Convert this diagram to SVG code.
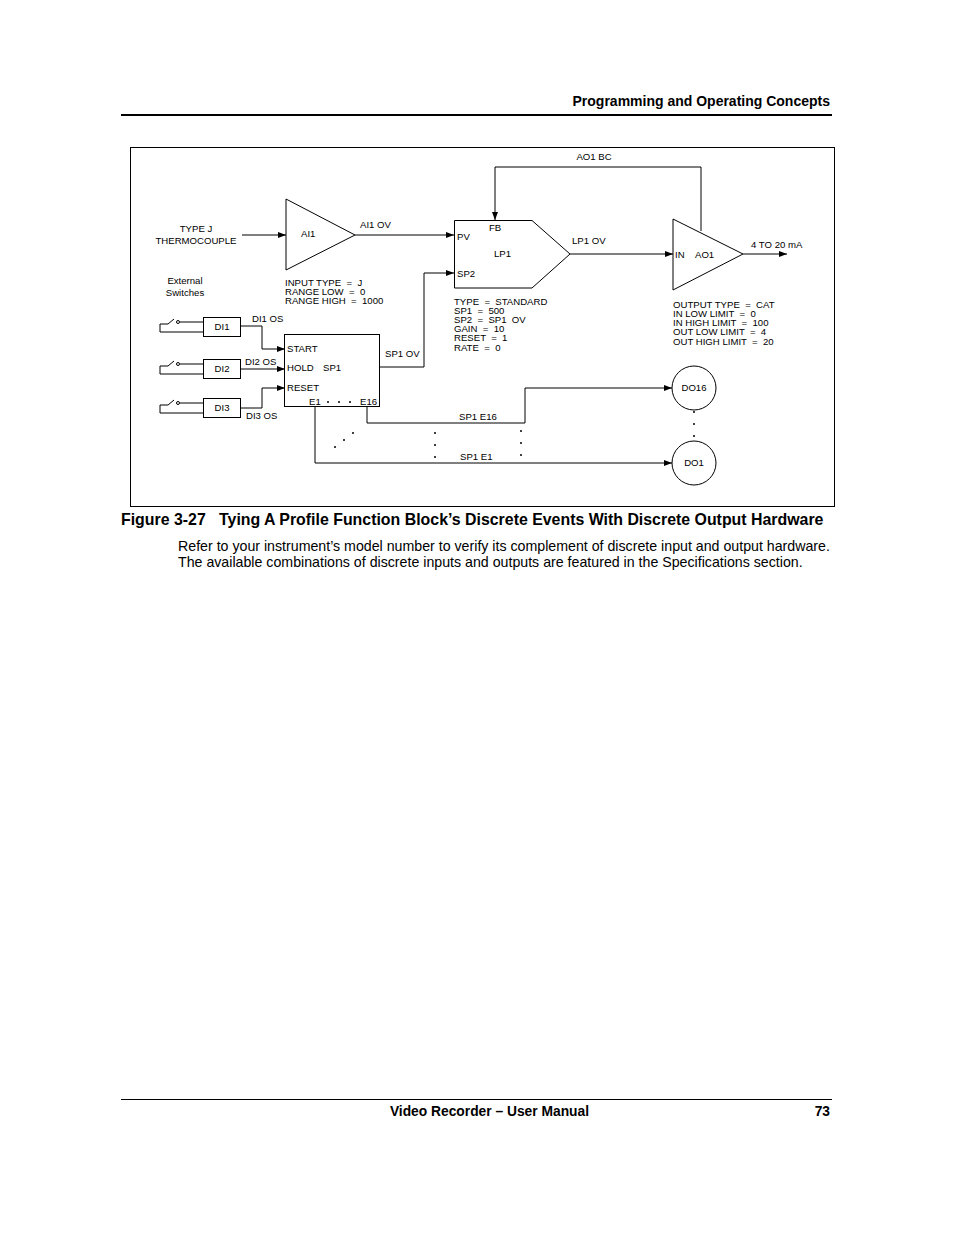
<svg xmlns="http://www.w3.org/2000/svg" width="954" height="1235" viewBox="0 0 954 1235" xml:space="preserve">
<defs>
<style>
text{font-family:"Liberation Sans",Arial,sans-serif;fill:#000;white-space:pre}
.t{font-size:9.6px}
.b{font-weight:bold}
.l{fill:none;stroke:#000;stroke-width:1}
.a{fill:none;stroke:#000;stroke-width:1;marker-end:url(#ah)}
.n{fill:#fff;stroke:#000;stroke-width:1}
</style>
<marker id="ah" markerWidth="8" markerHeight="6" refX="8" refY="3" orient="auto" markerUnits="userSpaceOnUse"><path d="M0,0 L8,3 L0,6 z" fill="#000"/></marker>
</defs>
<rect width="954" height="1235" fill="#fff"/>
<text x="830" y="106" text-anchor="end" class="b" font-size="14">Programming and Operating Concepts</text>
<line x1="121" y1="115" x2="832" y2="115" stroke="#000" stroke-width="2"/>
<rect x="130.5" y="147.5" width="704" height="359" class="l"/>

<g id="connectors">
<path class="a" d="M242,235 H286"/>
<path class="a" d="M355,235 H454"/>
<path class="a" d="M570,254 H673"/>
<path class="a" d="M743,254 H787"/>
<path class="a" d="M701,231 V167 H495 V220"/>
<path class="a" d="M380,367 H424 V273 H454"/>
<path class="a" d="M241,326 H262 V349 H285"/>
<path class="a" d="M241,369 H285"/>
<path class="a" d="M241,408 H262 V388 H285"/>
<path class="a" d="M367,406 V423 H525 V388 H672"/>
<path class="a" d="M315,406 V463 H672"/>
</g>

<g id="AI1"><path class="n" d="M286,199 L355,235 L286,270 Z"/><text class="t" x="301" y="237">AI1</text></g>
<g id="LP1"><path class="n" d="M454.5,220.5 H532 L570,254 L532,288 H454.5 Z"/>
<text class="t" x="489" y="231">FB</text><text class="t" x="457" y="240">PV</text><text class="t" x="494" y="257">LP1</text><text class="t" x="457" y="277">SP2</text></g>
<g id="AO1"><path class="n" d="M673,219 L743,254 L673,290 Z"/><text class="t" x="675" y="258">IN</text><text class="t" x="695" y="258">AO1</text></g>
<g id="SP1"><rect class="n" x="284.5" y="334.5" width="95" height="72"/>
<text class="t" x="287" y="352">START</text><text class="t" x="287" y="371">HOLD</text><text class="t" x="323" y="371">SP1</text><text class="t" x="287" y="391">RESET</text>
<text class="t" x="309" y="405">E1</text><text class="t" x="360" y="405">E16</text>
<circle cx="328" cy="402" r="1"/><circle cx="339" cy="402" r="1"/><circle cx="350" cy="402" r="1"/></g>
<g id="DI1"><rect class="n" x="203.5" y="317.5" width="37" height="19"/><text class="t" x="222" y="330" text-anchor="middle">DI1</text>
<path class="l" d="M203,332 H160 V324 H168 L174,319 M180,322 H203"/><circle cx="178" cy="322" r="1.5" class="l"/></g>
<g id="DI2"><rect class="n" x="203.5" y="359.5" width="37" height="19"/><text class="t" x="222" y="372" text-anchor="middle">DI2</text>
<path class="l" d="M203,374 H160 V366 H168 L174,361 M180,364 H203"/><circle cx="178" cy="364" r="1.5" class="l"/></g>
<g id="DI3"><rect class="n" x="203.5" y="398.5" width="37" height="19"/><text class="t" x="222" y="411" text-anchor="middle">DI3</text>
<path class="l" d="M203,413 H160 V405 H168 L174,400 M180,403 H203"/><circle cx="178" cy="403" r="1.5" class="l"/></g>
<g id="DO16"><circle class="n" cx="694" cy="388" r="22"/><text class="t" x="694" y="391" text-anchor="middle">DO16</text></g>
<g id="DO1"><circle class="n" cx="694" cy="463" r="22"/><text class="t" x="694" y="466" text-anchor="middle">DO1</text></g>

<g>
<text x="196" y="232" text-anchor="middle" class="t">TYPE J</text>
<text x="196" y="244" text-anchor="middle" class="t">THERMOCOUPLE</text>
<text x="185" y="284" text-anchor="middle" class="t">External</text>
<text x="185" y="296" text-anchor="middle" class="t">Switches</text>
<text x="360" y="228" class="t">AI1 OV</text>
<text x="594" y="160" text-anchor="middle" class="t">AO1 BC</text>
<text x="572" y="244" class="t">LP1 OV</text>
<text x="751" y="248" class="t">4 TO 20 mA</text>
<text x="285" y="286" class="t">INPUT TYPE  =  J</text>
<text x="285" y="295" class="t">RANGE LOW  =  0</text>
<text x="285" y="304" class="t">RANGE HIGH  =  1000</text>
<text x="454" y="305" class="t">TYPE  =  STANDARD</text>
<text x="454" y="314" class="t">SP1  =  500</text>
<text x="454" y="323" class="t">SP2  =  SP1  OV</text>
<text x="454" y="332" class="t">GAIN  =  10</text>
<text x="454" y="341" class="t">RESET  =  1</text>
<text x="454" y="351" class="t">RATE  =  0</text>
<text x="673" y="308" class="t">OUTPUT TYPE  =  CAT</text>
<text x="673" y="317" class="t">IN LOW LIMIT  =  0</text>
<text x="673" y="326" class="t">IN HIGH LIMIT  =  100</text>
<text x="673" y="335" class="t">OUT LOW LIMIT  =  4</text>
<text x="673" y="345" class="t">OUT HIGH LIMIT  =  20</text>
<text x="252" y="322" class="t">DI1 OS</text>
<text x="245" y="365" class="t">DI2 OS</text>
<text x="246" y="419" class="t">DI3 OS</text>
<text x="385" y="357" class="t">SP1 OV</text>
<text x="459" y="420" class="t">SP1 E16</text>
<text x="460" y="460" class="t">SP1 E1</text>
</g>
<g fill="#000">
<circle cx="335" cy="447" r="1"/><circle cx="344" cy="440" r="1"/><circle cx="353" cy="433" r="1"/>
<circle cx="435" cy="433" r="1"/><circle cx="435" cy="445" r="1"/><circle cx="435" cy="457" r="1"/>
<circle cx="521" cy="431" r="1"/><circle cx="521" cy="443" r="1"/><circle cx="521" cy="455" r="1"/>
<circle cx="694" cy="412" r="1"/><circle cx="694" cy="424" r="1"/><circle cx="694" cy="436" r="1"/>
</g>

<text x="121" y="525" class="b" font-size="15.9">Figure 3-27   Tying A Profile Function Block’s Discrete Events With Discrete Output Hardware</text>
<text x="178" y="551" font-size="14.2">Refer to your instrument’s model number to verify its complement of discrete input and output hardware.</text>
<text x="178" y="567" font-size="14.2">The available combinations of discrete inputs and outputs are featured in the Specifications section.</text>

<line x1="121" y1="1099.5" x2="832" y2="1099.5" stroke="#000" stroke-width="1"/>
<text x="589" y="1116" text-anchor="end" class="b" font-size="13.8">Video Recorder – User Manual</text>
<text x="830" y="1116" text-anchor="end" class="b" font-size="13.8">73</text>
</svg>
